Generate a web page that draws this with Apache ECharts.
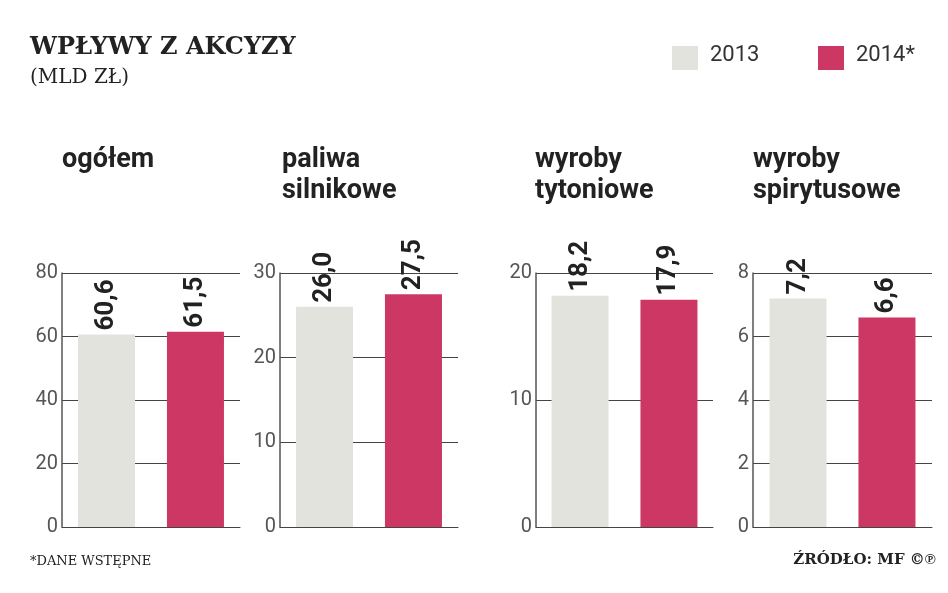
<!DOCTYPE html>
<html><head><meta charset="utf-8">
<script src="https://cdn.jsdelivr.net/npm/echarts@6/dist/echarts.min.js"></script>
<style>html,body{margin:0;padding:0;background:#fff}#c{width:948px;height:593px}</style>
</head><body><div id="c"></div>
<script>
const panelTitles = ['ogółem', 'paliwa\nsilnikowe', 'wyroby\ntytoniowe', 'wyroby\nspirytusowe'];
const years = ['2013', '2014*'];
const values2013 = [60.6, 26.0, 18.2, 7.2];
const values2014 = [61.5, 27.5, 17.9, 6.6];
const axisMax = [80, 30, 20, 8];
const axisStep = [20, 10, 10, 2];
const colors = ['#e3e3dd', '#cc3763'];
const grids = [
  {left: 62, width: 178},
  {left: 280, width: 178},
  {left: 536, width: 177},
  {left: 753, width: 179}
];
const font = '"Liberation Sans Narrow","Roboto",sans-serif';
const series = [];
[values2013, values2014].forEach((vals, j) => {
  vals.forEach((v, i) => {
    series.push({type: 'bar', name: years[j], xAxisIndex: i, yAxisIndex: i, barWidth: 57, barGap: '56%',
      data: [v], itemStyle: {color: colors[j]},
      label: {show: true, position: 'top', rotate: 90, align: 'left', verticalAlign: 'middle', distance: 4,
        formatter: p => p.value.toFixed(1).replace('.', ','), fontSize: 26, fontWeight: 'bold', color: '#222', fontFamily: font}
    });
  });
});
const option = {
  animation: false,
  grid: grids.map(g => ({left: g.left, width: g.width, top: 273, height: 254})),
  xAxis: grids.map((g, i) => ({gridIndex: i, type: 'category', data: ['x'], axisLine: {show: true, lineStyle: {color: '#444'}}, axisTick: {show: false}, axisLabel: {show: false}})),
  yAxis: grids.map((g, i) => ({gridIndex: i, type: 'value', min: 0, max: axisMax[i], interval: axisStep[i],
    axisLine: {show: true, lineStyle: {color: '#555', width: 1.5}}, axisTick: {show: false},
    axisLabel: {color: '#555', fontSize: 20, fontFamily: font, margin: 4},
    splitLine: {show: true, lineStyle: {color: '#444', width: 1}}})),
  series: series,
  graphic: [
    {type: 'text', left: 30, top: 36, style: {text: 'WPŁYWY Z AKCYZY', fontSize: 24, fontWeight: 'bold', fontFamily: '"DejaVu Serif",serif', fill: '#222'}},
    {type: 'text', left: 30, top: 68, style: {text: '(MLD ZŁ)', fontSize: 20, fontFamily: '"DejaVu Serif",serif', fill: '#222'}},
    {type: 'rect', shape: {x: 672, y: 46, width: 26, height: 24}, style: {fill: colors[0]}},
    {type: 'text', left: 710, top: 44, style: {text: '2013', fontSize: 22, fontFamily: font, fill: '#333'}},
    {type: 'rect', shape: {x: 818, y: 46, width: 26, height: 24}, style: {fill: colors[1]}},
    {type: 'text', left: 856, top: 44, style: {text: '2014*', fontSize: 22, fontFamily: font, fill: '#333'}},
    {type: 'text', left: 30, top: 555, style: {text: '*DANE WSTĘPNE', fontSize: 13, fontFamily: '"DejaVu Serif",serif', fill: '#222'}},
    {type: 'text', right: 12, top: 553, style: {text: 'ŹRÓDŁO: MF ©℗', fontSize: 15, fontWeight: 'bold', fontFamily: '"DejaVu Serif",serif', fill: '#222'}}
  ].concat(panelTitles.map((t, i) => ({type: 'text', left: [62, 282, 535, 753][i], top: 145,
    style: {text: t, fontSize: 27, fontWeight: 'bold', fontFamily: font, fill: '#222', lineHeight: 31}})))
};
const chart = echarts.init(document.getElementById('c'));
chart.setOption(option);
</script></body></html>
